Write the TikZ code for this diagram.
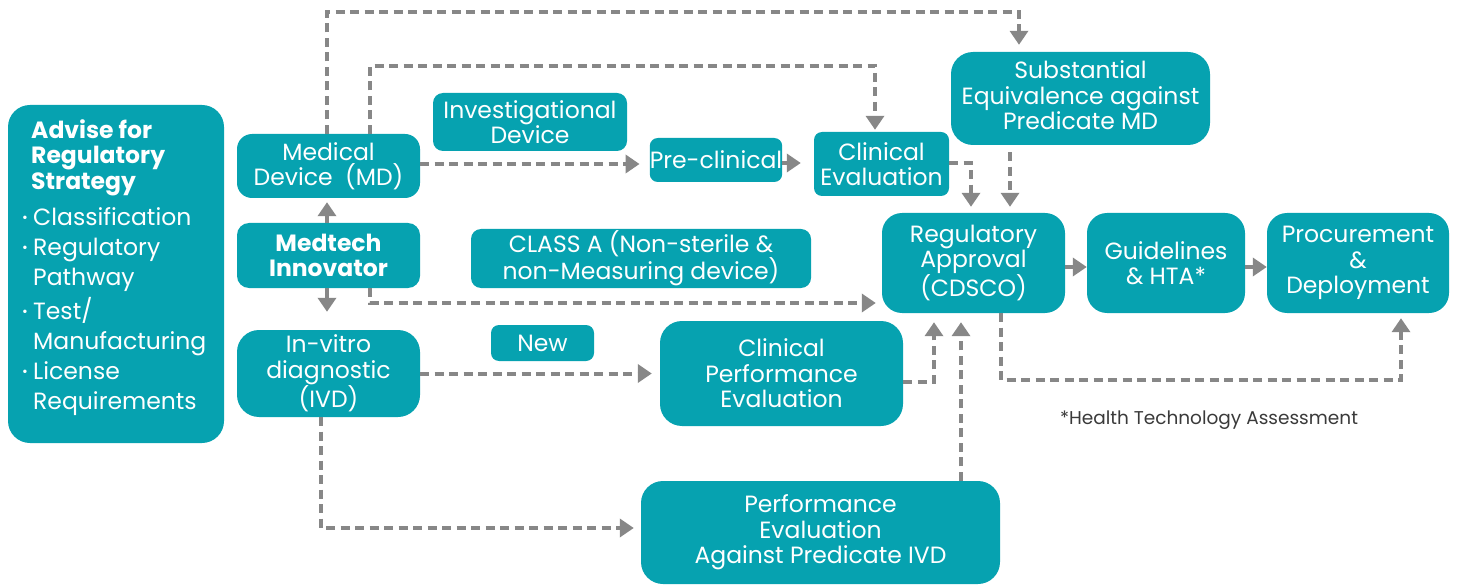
\documentclass[tikz,border=0pt]{standalone}
\usepackage{fontspec}
\setmainfont{Poppins}
\usetikzlibrary{arrows.meta,calc}
\definecolor{teal1}{HTML}{06A2B0}
\definecolor{conn}{HTML}{878787}
\definecolor{notegray}{HTML}{3A3A3A}
\begin{document}
\begin{tikzpicture}[x=1pt,y=-1pt,
 box/.style={fill=teal1, rounded corners=#1, text=white, align=center, inner sep=0pt, font=\fontsize{23.5}{25.5}\selectfont},
 box/.default=15pt,
 sz/.style 2 args={minimum width=#1pt, minimum height=#2pt},
 dl/.style={draw=conn, line width=4pt, dash pattern=on 9pt off 5.5pt, -{Triangle[width=18pt,length=14pt]}},
 sl/.style={draw=conn, line width=4pt, -{Triangle[width=18pt,length=14pt]}},
]
\useasboundingbox (0,0) rectangle (1461,585);

% nodes
\node[box=22pt, sz={216}{338}] (adv) at (116,274) {};
\node[anchor=north west, inner sep=0pt, text=white, align=left, font=\fontsize{23.5}{25.5}\selectfont] (advtxt) at (22,119)
 {\hspace*{9pt}\bfseries Advise for\\\hspace*{9pt}\bfseries Regulatory\\\hspace*{9pt}\bfseries Strategy\\[10.5pt]
  \makebox[11pt][l]{\raisebox{3pt}{\fontsize{14}{14}\selectfont •}}Classification\\[4.6pt]
  \makebox[11pt][l]{\raisebox{3pt}{\fontsize{14}{14}\selectfont •}}Regulatory\\[4.6pt]
  \hspace*{11pt}Pathway\\[4.6pt]
  \makebox[11pt][l]{\raisebox{3pt}{\fontsize{14}{14}\selectfont •}}Test/\\[4.6pt]
  \hspace*{11pt}Manufacturing\\[4.6pt]
  \makebox[11pt][l]{\raisebox{3pt}{\fontsize{14}{14}\selectfont •}}License\\[4.6pt]
  \hspace*{11pt}Requirements};

\node[box=15pt, sz={183}{64}] (md) at (328.5,166) {Medical\\Device\ \ (MD)};
\node[box=12pt, sz={183}{65}] (inn) at (328.5,255.5) {\bfseries Medtech\\\bfseries Innovator};
\node[box=22pt, sz={183}{87}] (ivd) at (328.5,373.5) {In-vitro\\diagnostic\\(IVD)};
\node[box=10pt, sz={194}{58}] (inv) at (530,122) {Investigational\\Device};
\node[box=8pt, sz={132}{44}] (pre) at (716,160) {Pre-clinical};
\node[box=8pt, sz={135}{64}] (ce) at (881.5,164) {Clinical\\Evaluation};
\node[box=22pt, sz={259}{93}] (se) at (1080.5,98.5) {Substantial\\Equivalence against\\Predicate MD\rule[-6pt]{0pt}{0pt}};
\node[box=20pt, sz={183}{100}] (ra) at (973.5,263) {Regulatory\\Approval\\(CDSCO)};
\node[box=20pt, sz={158}{100}] (gl) at (1166,263) {Guidelines\\\& HTA*};
\node[box=20pt, sz={182}{100}] (pd) at (1358,263) {Procurement\\\&\\Deployment};
\node[box=10pt, sz={340}{59}] (classa) at (641,258.5) {CLASS A (Non-sterile \&\\non-Measuring device)};
\node[box=8pt, sz={103}{36}] (new) at (542.5,343) {New};
\node[box=22pt, sz={243}{105}] (cpe) at (781.5,373.5) {Clinical\\Performance\\Evaluation};
\node[box=22pt, sz={359}{103}] (pe) at (820.5,532.5) {Performance\\Evaluation\\Against Predicate IVD};
\node[text=notegray, inner sep=0pt, font=\fontsize{18.5}{20}\selectfont] (note) at (1209,420) {*Health Technology Assessment};

% connectors
\draw[dl, shorten >=7pt] ([xshift=-1.5pt]md.north) -- ++(0,-122) -| ([xshift=-61.5pt]se.north);
\draw[dl, shorten >=2pt] ([xshift=41.5pt]md.north) -- ++(0,-68) -| ([xshift=-6.5pt]ce.north);
\draw[dl, shorten >=10pt] ([yshift=2pt]md.east) -- ([yshift=-4pt]pre.west);
\draw[sl, shorten >=13pt] ([yshift=-3pt]pre.east) -- ([yshift=1pt]ce.west);
\draw[dl, shorten >=6pt] ([yshift=1pt]ce.east) -| ([xshift=-2.5pt]ra.north);
\draw[dl, shorten >=6pt] ([xshift=-70.5pt,yshift=-7pt]se.south) -- ([xshift=36.5pt]ra.north);
\draw[dl, shorten >=6pt] ([xshift=41.5pt]inn.south) |- ([yshift=-40pt]ra.west);
\draw[sl, shorten >=4pt] ([xshift=-1.5pt]inn.north) -- ([xshift=-1.5pt]md.south);
\draw[sl, shorten >=18pt] ([xshift=-1.5pt]inn.south) -- ([xshift=-1.5pt]ivd.north);
\draw[dl, shorten >=8pt] (ivd.east) -- (cpe.west);
\draw[dl, shorten >=7pt] ([xshift=-7.5pt]ivd.south) |- ([yshift=4.5pt]pe.west);
\draw[dl, shorten >=9pt] ([yshift=-8.5pt]cpe.east) -| ([xshift=-39.5pt]ra.south);
\draw[dl, shorten >=9pt] ([xshift=140.5pt]pe.north) -- ([xshift=-12.5pt]ra.south);
\draw[dl, shorten >=5pt] ([xshift=27.5pt]ra.south) -- ++(0,67) -| ([xshift=43pt]pd.south);
\draw[sl] ([yshift=-4pt]ra.east) -- ([yshift=-4pt]gl.west);
\draw[sl] ([yshift=-4pt]gl.east) -- ([yshift=-4pt]pd.west);
\end{tikzpicture}
\end{document}
